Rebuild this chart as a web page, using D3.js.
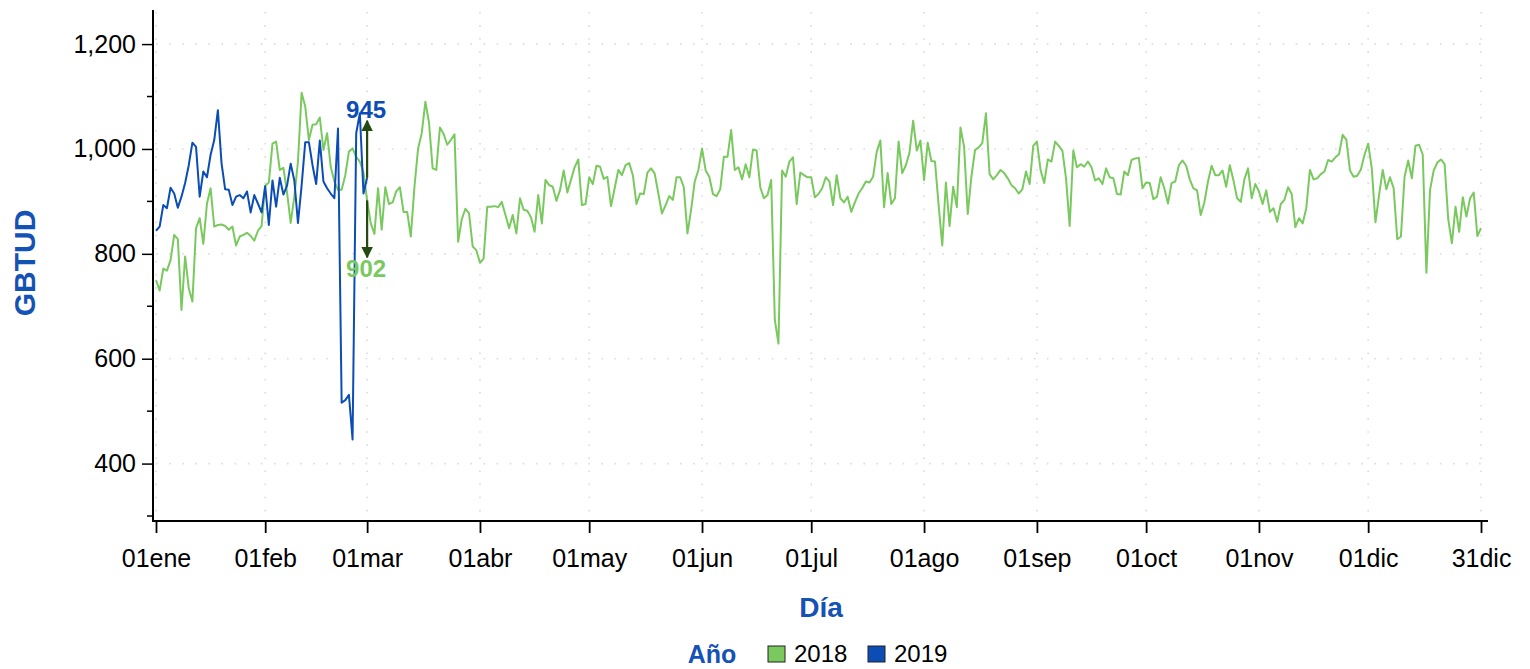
<!DOCTYPE html>
<html>
<head>
<meta charset="utf-8">
<script src="https://cdn.jsdelivr.net/npm/d3@7"></script>
<style>
  body { margin: 0; background: #fff; }
  svg { font-family: "Liberation Sans", Arial, sans-serif; }
</style>
</head>
<body>
<script>
// GBTUD diario, 2018 (año completo) y 2019 (hasta 01mar)
const values2018 = [
  750, 730, 772, 768, 788, 836, 828, 693, 795, 734,
  709, 849, 868, 819, 896, 925, 852, 855, 856, 853,
  846, 852, 816, 833, 836, 840, 834, 825, 844, 853,
  930, 936, 1010, 1014, 960, 964, 917, 859, 909, 976,
  1107, 1081, 1017, 1046, 1047, 1060, 998, 1030, 966, 938,
  922, 922, 950, 995, 1001, 985, 976, 955, 902, 858,
  838, 925, 846, 927, 895, 898, 919, 927, 880, 880,
  833, 928, 1001, 1030, 1090, 1050, 963, 960, 1041, 1029,
  1008, 1017, 1028, 823, 866, 886, 877, 814, 807, 783,
  791, 890, 890, 891, 889, 899, 874, 849, 874, 839,
  906, 884, 882, 870, 842, 912, 858, 941, 931, 928,
  901, 922, 959, 917, 941, 965, 980, 893, 895, 946,
  933, 968, 966, 943, 947, 891, 925, 960, 950, 969,
  973, 950, 895, 915, 914, 955, 963, 953, 915, 877,
  893, 910, 903, 946, 946, 927, 839, 884, 938, 960,
  1001, 959, 947, 914, 910, 923, 985, 985, 1036, 960,
  965, 942, 971, 946, 999, 997, 927, 906, 912, 941,
  674, 629, 959, 947, 976, 984, 895, 955, 950, 946,
  946, 908, 914, 925, 946, 938, 893, 950, 906, 898,
  909, 880, 898, 915, 925, 938, 936, 947, 995, 1016,
  889, 954, 895, 906, 1014, 954, 969, 993, 1054, 997,
  1016, 941, 1012, 977, 976, 893, 816, 936, 853, 928,
  889, 1041, 1004, 876, 947, 998, 1003, 1011, 1068, 952,
  942, 950, 960, 954, 944, 931, 925, 915, 923, 957,
  933, 1006, 1014, 960, 935, 980, 976, 1014, 1006, 997,
  944, 853, 997, 965, 971, 966, 976, 965, 940, 944,
  933, 963, 946, 944, 914, 913, 957, 950, 979, 982,
  983, 925, 936, 935, 904, 909, 946, 925, 896, 935,
  938, 969, 978, 968, 942, 925, 921, 874, 898, 938,
  968, 950, 950, 959, 928, 969, 940, 906, 899, 942,
  963, 906, 933, 919, 895, 921, 880, 887, 861, 895,
  903, 927, 914, 851, 868, 858, 887, 960, 942, 944,
  952, 957, 979, 976, 984, 990, 1027, 1018, 959, 947,
  949, 961, 989, 1010, 963, 860, 912, 960, 923, 946,
  925, 828, 833, 947, 978, 944, 1006, 1008, 989, 764,
  922, 959, 974, 980, 971, 866, 820, 890, 842, 908,
  871, 906, 917, 834, 849
];

const values2019 = [
  844, 852, 893, 887, 926, 915, 888, 909, 935, 969,
  1012, 1004, 909, 957, 946, 989, 1017, 1074, 973, 923,
  922, 893, 909, 912, 906, 919, 879, 912, 896, 879,
  929, 855, 940, 890, 945, 913, 930, 972, 940, 859,
  930, 1013, 1013, 969, 933, 1016, 938, 925, 915, 906,
  1039, 516, 521, 531, 446, 1030, 1068, 915, 945
];

// posición (día del año) y etiqueta de cada marca del eje X
const xTickDays = [0, 30, 58, 89, 119, 150, 180, 211, 242, 272, 303, 333, 364];
const xTickLabels = ["01ene", "01feb", "01mar", "01abr", "01may", "01jun", "01jul",
  "01ago", "01sep", "01oct", "01nov", "01dic", "31dic"];
const yTicksMajor = [400, 600, 800, 1000, 1200];
const yTicksMinor = [300, 500, 700, 900, 1100];
const years = ["2018", "2019"];

const width = 1530, height = 669;
const green = "#79c95f", blue = "#0b4db5", titleBlue = "#1552b6", arrowCol = "#244a12";

const svg = d3.select("body").append("svg")
  .attr("width", width)
  .attr("height", height);

const x = d3.scaleLinear().domain([0, 364]).range([156, 1481]);
const y = d3.scaleLinear().domain([290.5, 1265]).range([521, 10]);
const plotLeft = 153, plotRight = 1488;

// rejilla punteada
svg.append("g").selectAll("line")
  .data(yTicksMajor)
  .join("line")
  .attr("x1", plotLeft + 3).attr("x2", plotRight)
  .attr("y1", d => y(d)).attr("y2", d => y(d))
  .attr("stroke", "#dcdcdc").attr("stroke-width", 1.6)
  .attr("stroke-dasharray", "1.6,11.5");

svg.append("g").selectAll("line")
  .data(xTickDays)
  .join("line")
  .attr("x1", d => x(d)).attr("x2", d => x(d))
  .attr("y1", 12).attr("y2", 518)
  .attr("stroke", "#dcdcdc").attr("stroke-width", 1.6)
  .attr("stroke-dasharray", "1.6,11.5");

// eje Y
const yAxis = svg.append("g")
  .attr("transform", `translate(${plotLeft},0)`)
  .call(d3.axisLeft(y).tickValues(yTicksMajor).tickFormat(d3.format(",")).tickSize(11).tickPadding(6));
yAxis.select(".domain").remove();
yAxis.selectAll(".tick line").attr("stroke", "#000").attr("stroke-width", 1.5);
yAxis.selectAll("text").attr("font-size", 25).attr("fill", "#000")
  .attr("font-family", "Liberation Sans, Arial, sans-serif");

svg.append("g").selectAll("line")
  .data(yTicksMinor)
  .join("line")
  .attr("x1", plotLeft - 6).attr("x2", plotLeft)
  .attr("y1", d => y(d)).attr("y2", d => y(d))
  .attr("stroke", "#000").attr("stroke-width", 1.5);

// eje X
const xAxis = svg.append("g")
  .attr("transform", "translate(0,521)")
  .call(d3.axisBottom(x).tickValues(xTickDays)
    .tickFormat((d, i) => xTickLabels[i]).tickSize(12).tickPadding(16));
xAxis.select(".domain").remove();
xAxis.selectAll(".tick line").attr("stroke", "#000").attr("stroke-width", 1.8);
xAxis.selectAll("text").attr("font-size", 25).attr("fill", "#000")
  .attr("font-family", "Liberation Sans, Arial, sans-serif");

svg.append("line")
  .attr("x1", plotLeft).attr("x2", plotLeft).attr("y1", 10).attr("y2", 522)
  .attr("stroke", "#000").attr("stroke-width", 2);
svg.append("line")
  .attr("x1", plotLeft).attr("x2", plotRight).attr("y1", 521).attr("y2", 521)
  .attr("stroke", "#000").attr("stroke-width", 2);

// series
const line = d3.line().x((d, i) => x(i)).y(d => y(d));

svg.append("path")
  .datum(values2018)
  .attr("fill", "none").attr("stroke", green).attr("stroke-width", 2)
  .attr("stroke-linejoin", "round")
  .attr("d", line);

svg.append("path")
  .datum(values2019)
  .attr("fill", "none").attr("stroke", blue).attr("stroke-width", 2)
  .attr("stroke-linejoin", "round")
  .attr("d", line);

// anotación del último día de 2019 frente a 2018
const lastDay = values2019.length - 1;
const vBlue = values2019[lastDay], vGreen = values2018[lastDay];
const ax = x(lastDay);
svg.append("defs").append("marker")
  .attr("id", "arrow")
  .attr("viewBox", "0 0 10 10").attr("refX", 9).attr("refY", 5)
  .attr("markerWidth", 5.2).attr("markerHeight", 5.2)
  .attr("markerUnits", "strokeWidth")
  .attr("orient", "auto")
  .append("path").attr("d", "M0,0 L10,5 L0,10 Z").attr("fill", arrowCol);

svg.append("line")
  .attr("x1", ax).attr("x2", ax)
  .attr("y1", y(vBlue)).attr("y2", y(vBlue) - 57)
  .attr("stroke", arrowCol).attr("stroke-width", 2.2)
  .attr("marker-end", "url(#arrow)");
svg.append("line")
  .attr("x1", ax).attr("x2", ax)
  .attr("y1", y(vGreen)).attr("y2", y(vGreen) + 57)
  .attr("stroke", arrowCol).attr("stroke-width", 2.2)
  .attr("marker-end", "url(#arrow)");

svg.append("text")
  .attr("x", ax - 1).attr("y", y(vBlue) - 60)
  .attr("text-anchor", "middle").attr("font-size", 24).attr("font-weight", "bold")
  .attr("fill", blue).text(vBlue);
svg.append("text")
  .attr("x", ax - 1).attr("y", y(vGreen) + 77)
  .attr("text-anchor", "middle").attr("font-size", 24).attr("font-weight", "bold")
  .attr("fill", green).text(vGreen);

// títulos de ejes
svg.append("text")
  .attr("transform", "translate(35,263) rotate(-90)")
  .attr("text-anchor", "middle").attr("font-size", 30).attr("font-weight", "bold")
  .attr("fill", titleBlue).text("GBTUD");

svg.append("text")
  .attr("x", 821).attr("y", 617)
  .attr("text-anchor", "middle").attr("font-size", 28).attr("font-weight", "bold")
  .attr("fill", titleBlue).text("Día");

// leyenda
svg.append("text")
  .attr("x", 712).attr("y", 663)
  .attr("text-anchor", "middle").attr("font-size", 25).attr("font-weight", "bold")
  .attr("fill", titleBlue).text("Año");

const legendColor = d3.scaleOrdinal().domain(years).range([green, blue]);
const legend = svg.append("g").selectAll("g")
  .data(years)
  .join("g")
  .attr("transform", (d, i) => `translate(${768 + i * 100},646)`);
legend.append("rect")
  .attr("width", 17).attr("height", 16)
  .attr("fill", d => legendColor(d)).attr("stroke", "#222").attr("stroke-width", 1);
legend.append("text")
  .attr("x", 26).attr("y", 16)
  .attr("font-size", 24).attr("fill", "#000").text(d => d);
</script>
</body>
</html>
